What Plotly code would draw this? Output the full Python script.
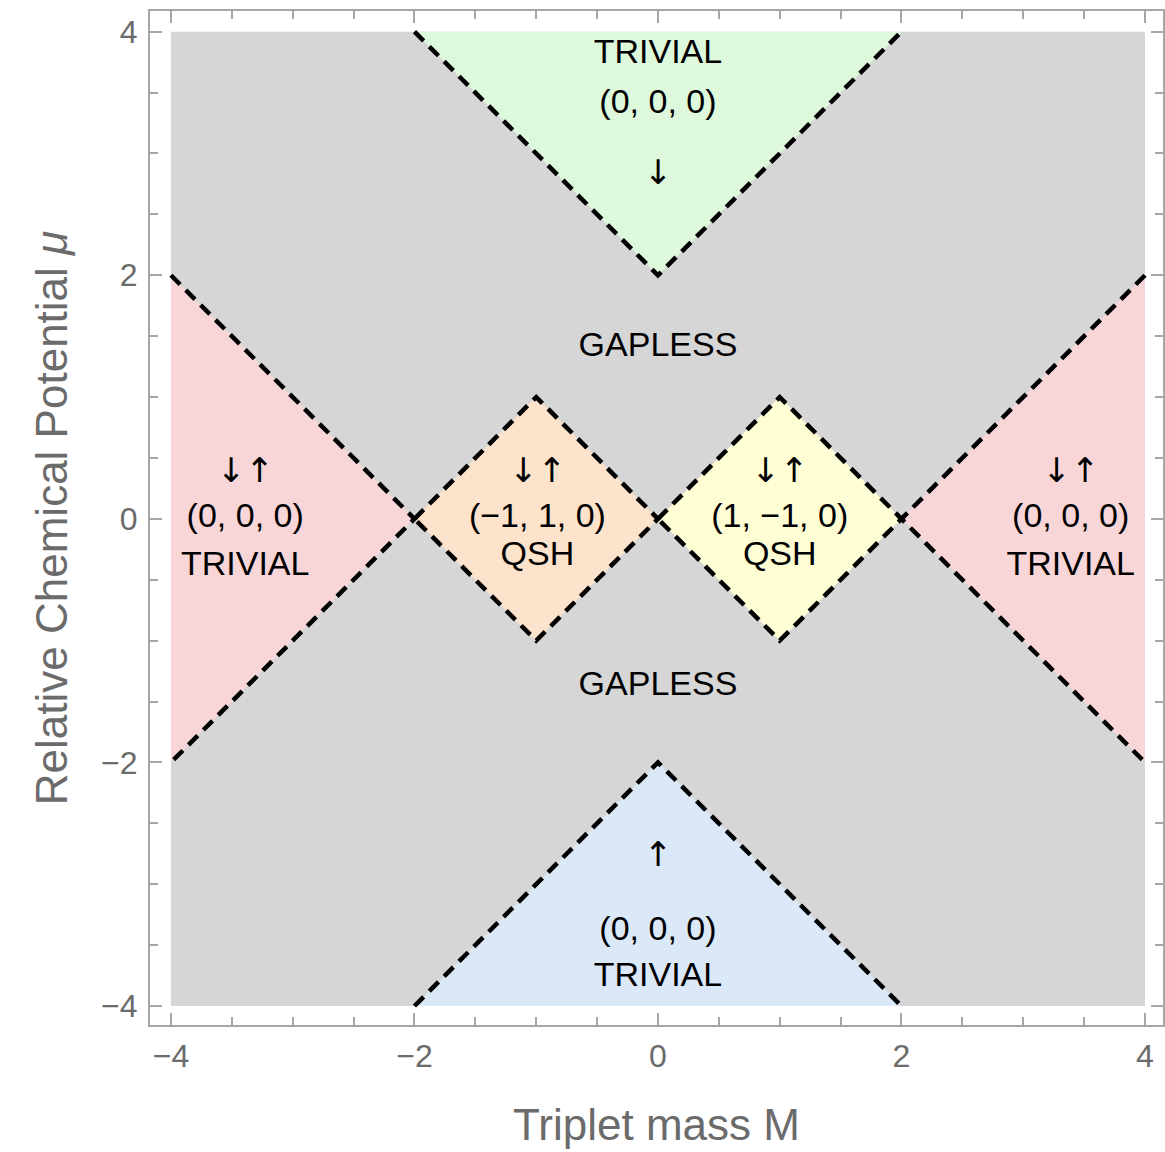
import plotly.graph_objects as go

# Phase regions in the (M, mu) plane: polygon vertices
gapless_M = [-4, 4, 4, -4]
gapless_mu = [4, 4, -4, -4]

top_M = [-2, 0, 2]
top_mu = [4, 2, 4]

bottom_M = [-2, 0, 2]
bottom_mu = [-4, -2, -4]

left_M = [-4, -2, -4]
left_mu = [2, 0, -2]

right_M = [4, 2, 4]
right_mu = [2, 0, -2]

qsh_neg_M = [-2, -1, 0, -1, -2]
qsh_neg_mu = [0, 1, 0, -1, 0]

qsh_pos_M = [0, 1, 2, 1, 0]
qsh_pos_mu = [0, 1, 0, -1, 0]

# Region names and invariants
label_text = [
    "TRIVIAL", "(0, 0, 0)",
    "GAPLESS", "GAPLESS",
    "(0, 0, 0)", "TRIVIAL",
    "(−1, 1, 0)", "QSH",
    "(1, −1, 0)", "QSH",
    "(0, 0, 0)", "TRIVIAL",
    "(0, 0, 0)", "TRIVIAL",
]
label_M = [
    0, 0,
    0, 0,
    -3.39, -3.39,
    -0.99, -0.99,
    1.0, 1.0,
    3.39, 3.39,
    0, 0,
]
label_mu = [
    3.81, 3.40,
    1.41, -1.38,
    0.0, -0.39,
    0.0, -0.31,
    0.0, -0.31,
    0.0, -0.39,
    -3.39, -3.77,
]

# Spin arrows
arrow_text = ["↓", "↓↑", "↓↑", "↓↑", "↓↑", "↑"]
arrow_M = [0, -3.39, -0.99, 1.0, 3.39, 0]
arrow_mu = [2.82, 0.37, 0.37, 0.37, 0.37, -2.78]

x_ticks = [-4, -2, 0, 2, 4]
y_ticks = [-4, -2, 0, 2, 4]
tick_text = ["−4", "−2", "0", "2", "4"]

FONT = "Liberation Sans, Arial, Helvetica, sans-serif"
AXIS_GRAY = "#a6a6a6"
TEXT_GRAY = "#6b6b6b"

fig = go.Figure()

# Filled regions
regions = [
    (gapless_M, gapless_mu, "#d6d6d6"),
    (top_M, top_mu, "#def8dc"),
    (bottom_M, bottom_mu, "#dae8f8"),
    (left_M, left_mu, "#f8d6d8"),
    (right_M, right_mu, "#f8d6d8"),
    (qsh_neg_M, qsh_neg_mu, "#fde3cb"),
    (qsh_pos_M, qsh_pos_mu, "#fefdd4"),
]
for xs, ys, col in regions:
    fig.add_trace(go.Scatter(
        x=xs, y=ys, fill="toself", fillcolor=col, mode="none",
        hoverinfo="skip", showlegend=False,
    ))

# Dashed phase boundaries
boundaries = [
    (top_M, top_mu),
    (bottom_M, bottom_mu),
    (left_M, left_mu),
    (right_M, right_mu),
    (qsh_neg_M, qsh_neg_mu),
    (qsh_pos_M, qsh_pos_mu),
]
for xs, ys in boundaries:
    fig.add_trace(go.Scatter(
        x=xs, y=ys, mode="lines",
        line=dict(color="black", width=4.5, dash="13px,8px"),
        hoverinfo="skip", showlegend=False,
    ))

# Region labels
fig.add_trace(go.Scatter(
    x=label_M, y=label_mu, mode="text", text=label_text,
    textfont=dict(family=FONT, size=34, color="black"),
    hoverinfo="skip", showlegend=False,
))
fig.add_trace(go.Scatter(
    x=arrow_M, y=arrow_mu, mode="text", text=arrow_text,
    textfont=dict(family="DejaVu Sans, sans-serif", size=34, color="black"),
    hoverinfo="skip", showlegend=False,
))

axis_common = dict(
    showgrid=False, zeroline=False,
    showline=True, linecolor=AXIS_GRAY, linewidth=2,
    mirror="ticks",
    ticks="inside", ticklen=12, tickwidth=2, tickcolor=AXIS_GRAY,
    tickfont=dict(family=FONT, size=32, color=TEXT_GRAY),
    minor=dict(dtick=0.5, ticks="inside", ticklen=8, tickwidth=2,
               tickcolor=AXIS_GRAY, showgrid=False),
)

fig.update_layout(
    width=1165, height=1152,
    margin=dict(l=150, r=0, t=11, b=127),
    paper_bgcolor="white", plot_bgcolor="white",
    xaxis=dict(
        range=[-4.172, 4.148], tickvals=x_ticks, ticktext=tick_text,
        ticklabelstandoff=2,
        title=dict(text="Triplet mass M", font=dict(family=FONT, size=44, color=TEXT_GRAY),
                   standoff=36),
        **axis_common,
    ),
    yaxis=dict(
        range=[-4.156, 4.17], tickvals=y_ticks, ticktext=tick_text,
        ticklabelstandoff=4,
        title=dict(text="Relative Chemical Potential <i>μ</i>",
                   font=dict(family=FONT, size=44, color=TEXT_GRAY), standoff=20),
        **axis_common,
    ),
)

fig.write_html("out.html")
